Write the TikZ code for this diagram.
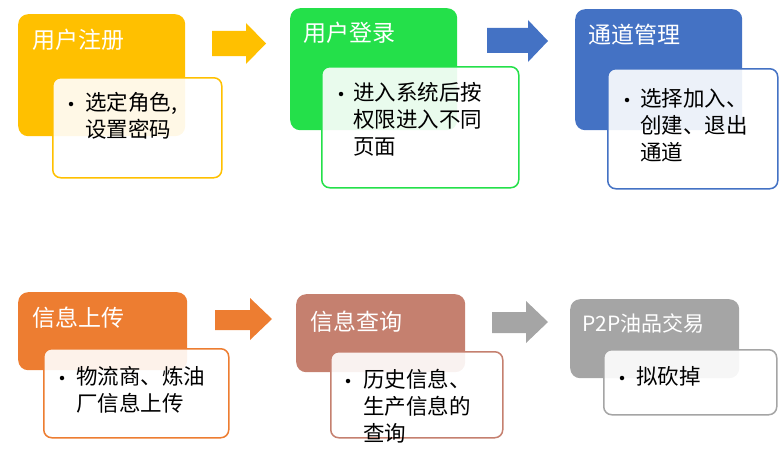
\documentclass[tikz,border=0pt]{standalone}
\usepackage{fontspec}
\setmainfont{Noto Sans CJK SC}
\definecolor{cyel}{HTML}{FFC000}
\definecolor{cgrn}{HTML}{24E04A}
\definecolor{cblu}{HTML}{4472C4}
\definecolor{corg}{HTML}{ED7D31}
\definecolor{cter}{HTML}{C5806F}
\definecolor{cgry}{HTML}{A5A5A5}
\tikzset{
  topbox/.style={rounded corners=10pt, inner sep=0pt, anchor=north west, draw=none},
  subbox/.style={rounded corners=8pt, fill=white, fill opacity=0.9, line width=1.5pt, anchor=north west, inner sep=0pt},
  titletext/.style={anchor=west, text=white, inner sep=0pt, font=\fontsize{23}{27}\selectfont},
  bulletdot/.style={circle, fill=black, inner sep=0pt, minimum size=4.5pt},
  bodytext/.style={anchor=north west, align=left, inner sep=0pt, font=\fontsize{21.5}{27}\selectfont},
  blockarrow/.style={draw=none}
}
\begin{document}
\begin{tikzpicture}[x=1pt,y=-1pt]
\useasboundingbox (0,0) rectangle (783,452);

% group 1
\node[topbox, fill=cyel, minimum width=167pt, minimum height=122pt] (t1) at (18,14) {};
\node[titletext] (h1) at (32,40) {用户注册};
\node[subbox, draw=cyel, minimum width=169pt, minimum height=100pt] (s1) at (52,77) {};
\node[bulletdot] (d1) at (71,104) {};
\node[bodytext] (b1) at (85,92) {选定角色,\\设置密码};
\fill[cyel, blockarrow] (212,31) -- (246,31) -- (246,23) -- (266,43.5) -- (246,64) -- (246,56) -- (212,56) -- cycle;

% group 2
\node[topbox, fill=cgrn, minimum width=167pt, minimum height=122pt] (t2) at (290,8) {};
\node[titletext] (h2) at (303,33) {用户登录};
\node[subbox, draw=cgrn, minimum width=197pt, minimum height=121pt] (s2) at (321,66) {};
\node[bulletdot] (d2) at (341,94) {};
\node[bodytext] (b2) at (353,82) {进入系统后按\\权限进入不同\\页面};
\fill[cblu, blockarrow] (487,28) -- (528,28) -- (528,20) -- (548,41) -- (528,62) -- (528,53) -- (487,53) -- cycle;

% group 3
\node[topbox, fill=cblu, minimum width=167pt, minimum height=121pt] (t3) at (575,9) {};
\node[titletext] (h3) at (588,35) {通道管理};
\node[subbox, draw=cblu, minimum width=170pt, minimum height=120pt] (s3) at (607,68) {};
\node[bulletdot] (d3) at (627,100) {};
\node[bodytext] (b3) at (640,88) {选择加入、\\创建、退出\\通道};

% group 4
\node[topbox, fill=corg, minimum width=169pt, minimum height=78pt] (t4) at (18,292) {};
\node[titletext] (h4) at (32,318) {信息上传};
\node[subbox, draw=corg, minimum width=185pt, minimum height=89pt] (s4) at (43,348) {};
\node[bulletdot] (d4) at (62,378) {};
\node[bodytext] (b4) at (76,366) {物流商、炼油\\厂信息上传};
\fill[corg, blockarrow] (215,310) -- (250,310) -- (250,298) -- (272,319) -- (250,340) -- (250,330) -- (215,330) -- cycle;

% group 5
\node[topbox, fill=cter, minimum width=169pt, minimum height=78pt] (t5) at (296,294) {};
\node[titletext] (h5) at (310,322) {信息查询};
\node[subbox, draw=cter, minimum width=172pt, minimum height=86pt] (s5) at (330,351) {};
\node[bulletdot] (d5) at (348,381) {};
\node[bodytext] (b5) at (363,369) {历史信息、\\生产信息的\\查询};
\fill[cgry, blockarrow] (492,312) -- (526,312) -- (526,301) -- (548,322) -- (526,343) -- (526,333) -- (492,333) -- cycle;

% group 6
\node[topbox, fill=cgry, minimum width=169pt, minimum height=79pt] (t6) at (570,299) {};
\node[titletext, font=\fontsize{21}{25}\selectfont] (h6) at (582,323) {P2P油品交易};
\node[subbox, draw=cgry, minimum width=173pt, minimum height=65pt] (s6) at (603,349) {};
\node[bulletdot] (d6) at (622,378) {};
\node[bodytext] (b6) at (636,366) {拟砍掉};
\end{tikzpicture}
\end{document}
